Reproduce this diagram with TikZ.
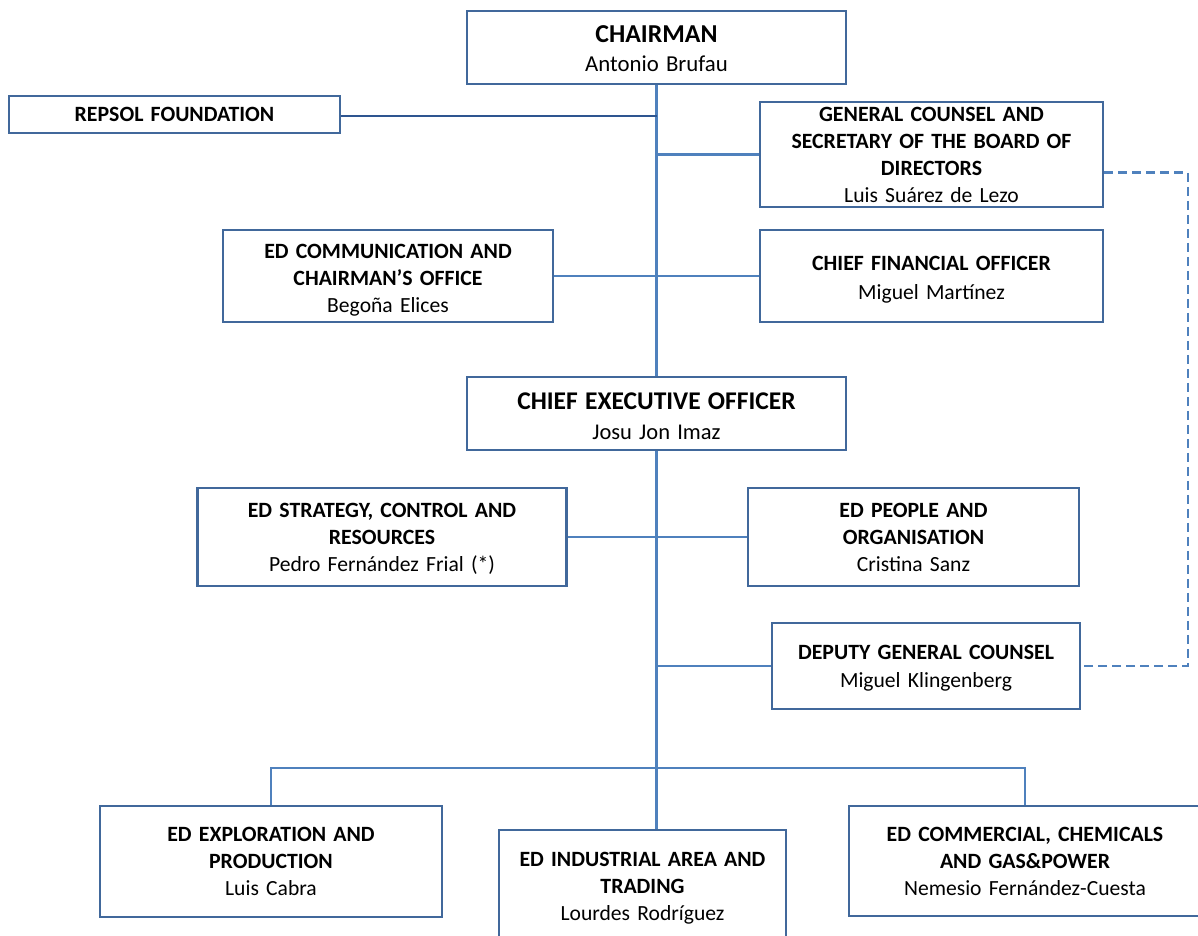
\documentclass[tikz,border=0pt]{standalone}
\usepackage{fontspec}
\setmainfont{Carlito}
\definecolor{boxc}{HTML}{41689B}
\definecolor{connc}{HTML}{4F81BD}
\definecolor{darkc}{HTML}{2E5590}
\newcommand{\tl}[1]{{\fontsize{21.8}{27}\selectfont\bfseries #1}}
\newcommand{\pd}[1]{\rule{0pt}{#1}}
\begin{document}
\begin{tikzpicture}[x=1pt,y=-1pt,
  bx/.style n args={2}{draw=boxc, line width=2.7pt, fill=white, inner sep=0pt,
    align=center, text width=#1, minimum width=#1, minimum height=#2,
    font=\fontsize{21.6}{27}\selectfont},
  conn/.style={draw=connc, line width=2.8pt},
  dconn/.style={draw=connc, line width=2.8pt, dash pattern=on 9pt off 5pt},
]
\useasboundingbox (0,0) rectangle (1198,935);
\clip (0,0) rectangle (1198,935);
\fill[white] (0,0) rectangle (1198,935);

\coordinate (bus) at (656,768);
\coordinate (dr) at (1188,0);

% boxes
\node[bx={379pt}{73pt}] (chair) at (656.5,47.5)
  {\pd{18.6pt}{\fontsize{25.8}{30}\selectfont\textbf{CHAIRMAN}}\\[2pt]{\fontsize{22.8}{27}\selectfont Antonio Brufau}};
\node[bx={331pt}{37pt}] (rep) at (174.5,114.5) {\tl{REPSOL FOUNDATION}};
\node[bx={343pt}{105pt}] (gc) at (931.5,154.5)
  {\tl{GENERAL COUNSEL AND}\\\tl{SECRETARY OF THE BOARD OF}\\\tl{DIRECTORS}\\Luis Suárez de Lezo};
\node[bx={330pt}{92pt}] (comm) at (388,276)
  {\pd{22pt}\tl{ED COMMUNICATION AND}\\\tl{CHAIRMAN’S OFFICE}\\Begoña Elices};
\node[bx={343pt}{92pt}] (cfo) at (931.5,276)
  {\pd{22pt}\tl{CHIEF FINANCIAL OFFICER}\\[2pt]Miguel Martínez};
\node[bx={379pt}{73pt}] (ceo) at (656.5,413.5)
  {\pd{22.5pt}{\fontsize{25.5}{30}\selectfont\textbf{CHIEF EXECUTIVE OFFICER}}\\[3pt]{\fontsize{22.5}{27}\selectfont Josu Jon Imaz}};
\node[bx={369pt}{98pt}] (strat) at (382,537)
  {\pd{18pt}\tl{ED STRATEGY, CONTROL AND}\\\tl{RESOURCES}\\Pedro Fernández Frial (*)};
\node[bx={331pt}{98pt}] (people) at (913.5,537)
  {\pd{16pt}\tl{ED PEOPLE AND}\\\tl{ORGANISATION}\\Cristina Sanz};
\node[bx={308pt}{86pt}] (dep) at (926,666)
  {\pd{18pt}\tl{DEPUTY GENERAL COUNSEL}\\[1pt]Miguel Klingenberg};
\node[bx={342pt}{111pt}] (ep) at (271,861.5)
  {\tl{ED EXPLORATION AND}\\\tl{PRODUCTION}\\Luis Cabra};
\node[bx={287pt}{110pt}] (ind) at (642.5,885)
  {\pd{20pt}\tl{ED INDUSTRIAL  AREA AND}\\\tl{TRADING}\\Lourdes Rodríguez};
\node[bx={352pt}{110pt}] (com) at (1025,861)
  {\tl{ED COMMERCIAL, CHEMICALS}\\\tl{AND GAS\&POWER}\\Nemesio Fernández-Cuesta};

% connectors
\draw[conn] (chair.south) -- (ceo.north);
\draw[conn] (ceo.south) -- (ceo.south |- ind.north);
\draw[draw=darkc, line width=2.8pt] ([yshift=-1.5pt]rep.east) -- ([yshift=-1.5pt]rep.east -| chair.south);
\draw[conn] (gc.west) -- (gc.west -| chair.south);
\draw[conn] (comm.east) -- (cfo.west);
\draw[conn] (strat.east) -- (people.west);
\draw[conn] (dep.west) -- (dep.west -| ceo.south);
\draw[conn] (ep.north) |- (bus) -| (com.north);
\draw[dconn] ([yshift=-18pt]gc.east) -| (dr |- dep.east) -- (dep.east);
\end{tikzpicture}
\end{document}
